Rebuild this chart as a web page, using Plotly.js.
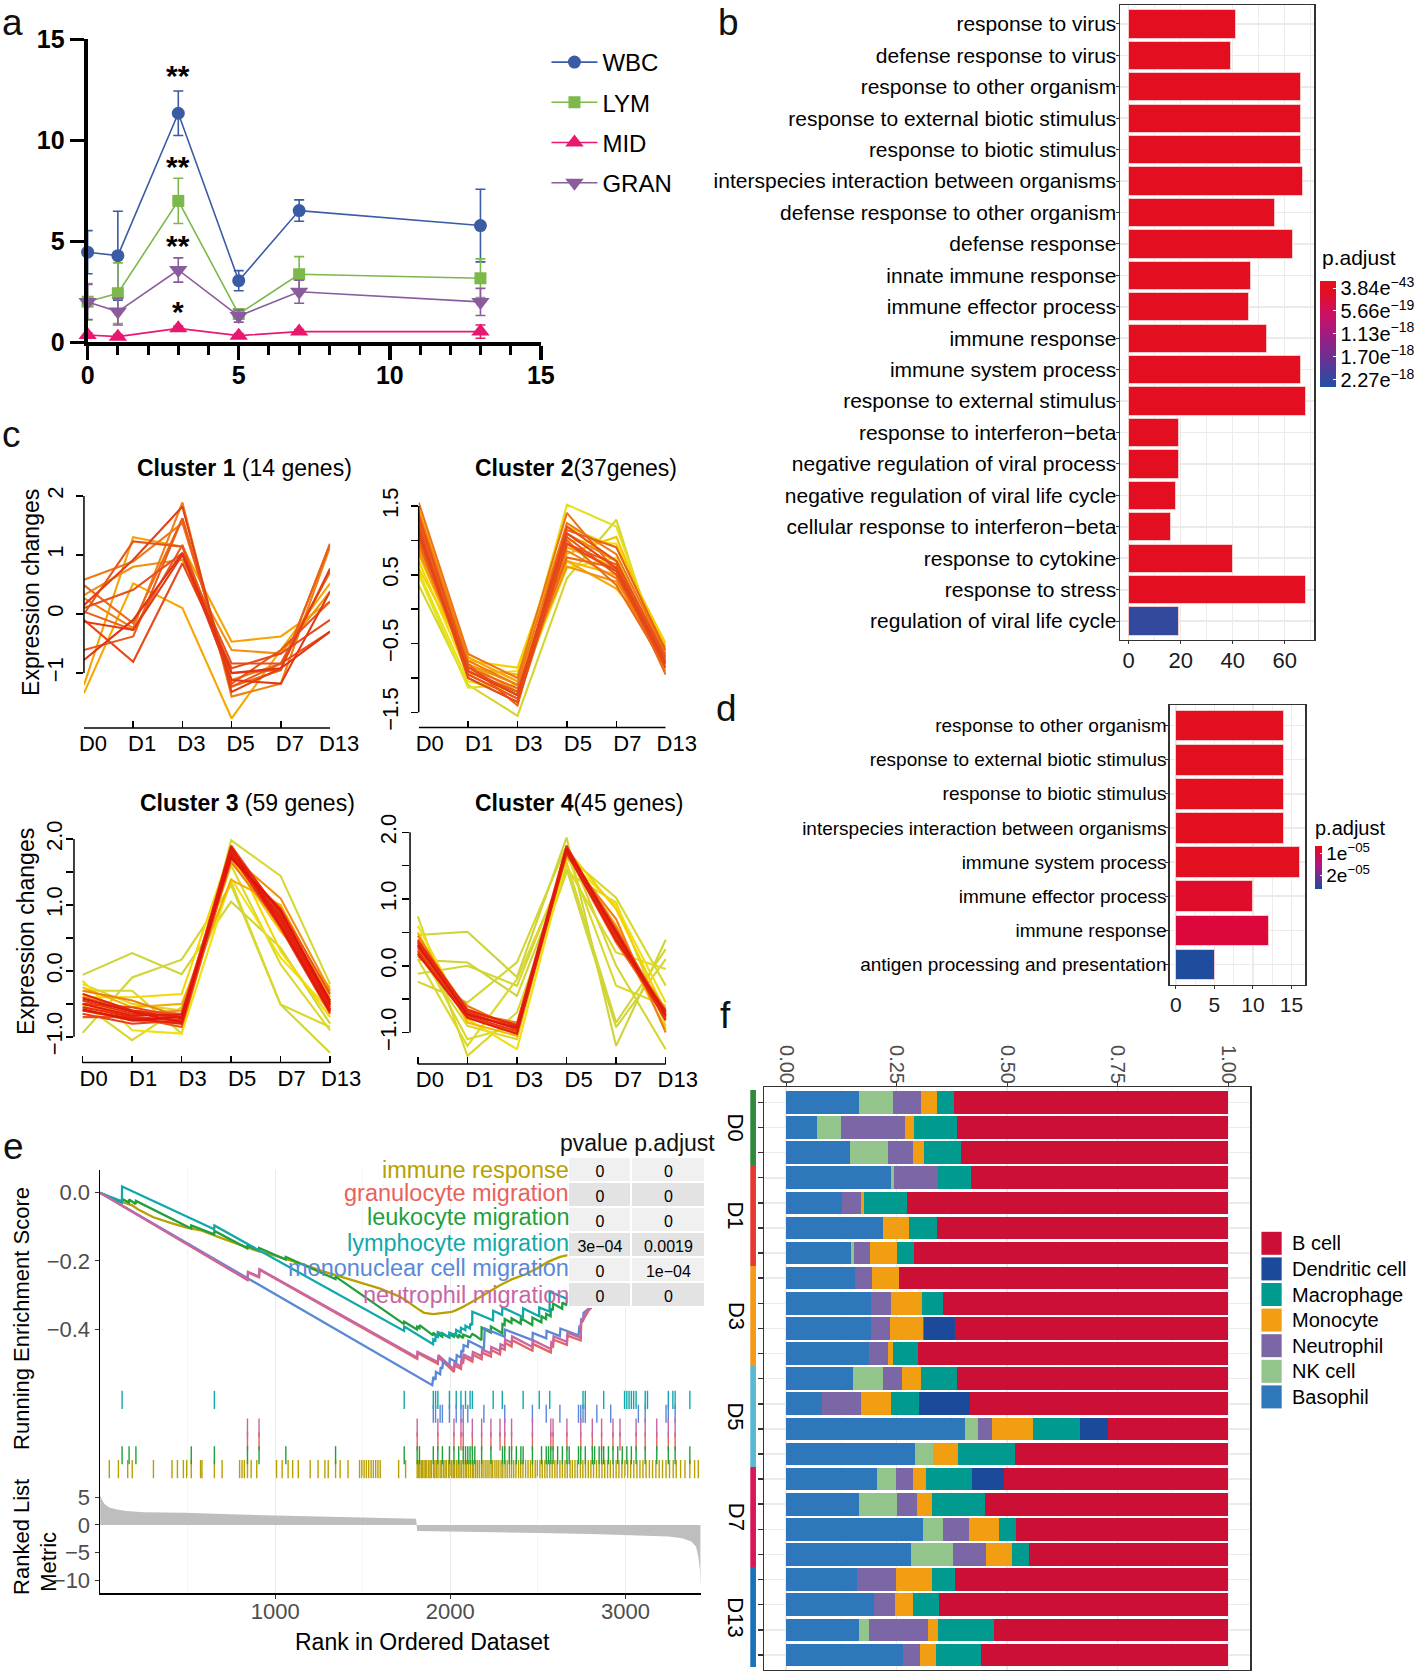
<!DOCTYPE html>
<html><head><meta charset="utf-8">
<script src="https://cdn.plot.ly/plotly-3.0.1.min.js"></script>
<style>html,body{margin:0;padding:0;background:#fff}#chart{width:1418px;height:1672px}</style>
</head><body><div id="chart"></div>
<script>
const W=1418,H=1672;
const xd=(a,b)=>[a/W,b/W];
const yd=(t,b)=>[1-b/H,1-t/H];
const px=x=>x/W, py=y=>1-y/H;
const FONT='Liberation Sans, Arial, Helvetica, sans-serif';

/* ---------------- Panel a data ---------------- */
const aDays=[0,1,3,5,7,13];
const wbc=[4.46,4.29,11.34,3.05,6.52,5.78];
const wbcErr=[1.07,2.2,1.1,0.5,0.53,1.8];
const lym=[2.01,2.43,7.0,1.4,3.37,3.17];
const lymErr=[0.9,1.5,1.12,0.2,0.87,0.96];
const mid=[0.36,0.28,0.69,0.33,0.53,0.53];
const midErr=[0.1,0.1,0.12,0.1,0.1,0.33];
const gran=[2.0,1.52,3.58,1.3,2.5,2.0];
const granErr=[0.87,0.66,0.6,0.3,0.57,0.67];
const sigLabels=['**','**','**','*'];
const sigY=[13.2,8.7,4.8,1.5];
const sigDay=3;

/* ---------------- Panel b data ---------------- */
const bTerms=['response to virus','defense response to virus','response to other organism','response to external biotic stimulus','response to biotic stimulus','interspecies interaction between organisms','defense response to other organism','defense response','innate immune response','immune effector process','immune response','immune system process','response to external stimulus','response to interferon\u2212beta','negative regulation of viral process','negative regulation of viral life cycle','cellular response to interferon\u2212beta','response to cytokine','response to stress','regulation of viral life cycle'];
const bCounts=[41,39,66,66,66,67,56,63,47,46,53,66,68,19,19,18,16,40,68,19];
const bPadj=[1.5e-30,2.1e-28,3.84e-43,3.84e-43,3.84e-43,1.2e-42,4.5e-39,2.2e-41,1.1e-35,6.7e-33,3.3e-37,5.1e-42,8.9e-41,2.5e-25,3.1e-24,4.6e-23,7.2e-22,2.9e-33,1.7e-39,2.27e-18];
const bTicks=[3.84e-43,5.66e-19,1.13e-18,1.70e-18,2.27e-18];
const bTickText=['3.84e<sup>\u221243</sup>','5.66e<sup>\u221219</sup>','1.13e<sup>\u221218</sup>','1.70e<sup>\u221218</sup>','2.27e<sup>\u221218</sup>'];

/* ---------------- Panel d data ---------------- */
const dTerms=['response to other organism','response to external biotic stimulus','response to biotic stimulus','interspecies interaction between organisms','immune system process','immune effector process','immune response','antigen processing and presentation'];
const dCounts=[14,14,14,14,16,10,12,5];
const dPadj=[6.6e-6,6.6e-6,6.6e-6,6.6e-6,6.7e-6,8.0e-6,9.5e-6,2.66e-5];
const dTicks=[1e-5,2e-5];
const dTickText=['1e<sup>\u221205</sup>','2e<sup>\u221205</sup>'];

/* ---------------- Panel c data ---------------- */
const days=['D0','D1','D3','D5','D7','D13'];
const c1Lines=[
[-1.34,0.52,0.10,-1.77,-0.61,0.52],[-1.20,1.30,1.14,-0.47,-0.38,0.21],[0.32,0.80,0.92,-0.61,-0.67,0.38],
[0.27,-0.24,1.89,-1.40,-1.18,1.14],[0.58,0.89,1.54,-1.12,-0.84,0.72],[0.49,-0.16,1.62,-1.23,-0.95,1.19],
[0.04,-0.27,1.17,-1.00,-0.95,1.19],[-0.61,-0.38,1.62,-1.23,-0.84,0.72],[0.00,1.23,1.14,-1.18,-0.61,0.21],
[0.10,0.41,1.03,-0.84,-0.84,-0.30],[-0.10,-0.81,0.86,-0.92,-0.67,-0.10],[0.15,0.92,1.82,-1.32,-0.92,0.77],
[-0.13,-0.27,1.00,-1.12,-1.18,0.38],[-0.78,-0.10,1.03,-1.00,-0.92,-0.30]];
const c1Colors=['#f5a800','#f5a300','#f29012','#f08016','#ee7818','#ec6a18','#ea6018','#ea5a18','#e8541a','#e8501a','#e64a18','#e44016','#e23a14','#e03414'];
const c2Lines=[
[0.35,-1.10,-1.55,0.45,1.30,-0.95],[0.50,-1.14,-1.10,1.52,1.20,-0.80],[0.55,-1.05,-1.20,0.60,0.75,-0.60],
[0.70,-0.95,-0.90,1.00,0.95,-0.55],[0.60,-0.75,-0.85,1.20,0.90,-0.50],[0.90,-0.70,-1.05,0.80,1.05,-0.70],
[0.80,-0.85,-0.95,0.70,0.50,-0.85],[1.45,-0.70,-1.05,0.70,0.30,-0.55],[1.00,-0.80,-1.20,0.90,0.60,-0.75],
[0.85,-0.80,-1.10,0.62,0.40,-0.65],[1.20,-0.90,-1.25,1.10,0.70,-0.80],[1.10,-1.00,-1.35,0.85,0.45,-0.90],
[1.40,-0.75,-1.10,1.25,0.80,-0.65],[1.55,-0.65,-1.00,1.40,0.55,-0.70],[1.30,-0.95,-1.30,1.00,0.35,-0.85],
[0.95,-0.85,-1.15,0.75,0.60,-0.95],[1.25,-0.80,-1.40,1.15,0.90,-0.60],[1.15,-0.90,-1.20,0.95,0.65,-0.75],
[1.05,-0.95,-1.30,1.05,0.50,-0.80],[1.35,-0.85,-1.25,1.20,0.70,-0.70],[1.20,-1.00,-1.35,0.95,0.55,-0.85],
[1.10,-0.90,-1.25,1.10,0.60,-0.78]];
const c2Colors=['#d4d42e','#e4e020','#eee010','#f2dc08','#f5d000','#f5c400','#f5b800','#f5a808','#f4a010','#f29410','#f08a10','#f08012','#ee7a14','#ee7414','#ec6e16','#ec6816','#ea6218','#ea5c18','#e85618','#e85018','#e64a18','#e44418'];
const c3Lines=[
[-0.06,0.27,-0.05,1.05,0.35,-0.80],[-0.94,-0.10,0.17,1.30,-0.51,-1.24],[-0.30,-0.30,-0.95,1.98,1.44,-0.20],
[-0.50,-1.05,-0.55,1.35,-0.51,-0.85],[-0.20,-0.50,-0.60,1.60,0.10,-0.90],[-0.15,-0.90,-0.95,1.40,0.20,-0.60],
[-0.40,-0.40,-0.35,1.85,0.30,-0.70],[-0.35,-0.60,-0.80,1.70,0.60,-0.25],[-0.25,-0.55,-0.50,1.38,1.00,-0.40],
[-0.45,-0.70,-0.75,1.90,0.80,-0.50],[-0.55,-0.65,-0.60,1.75,1.10,-0.30],[-0.30,-0.45,-0.70,1.65,0.70,-0.55],
[-0.60,-0.75,-0.80,1.80,0.90,-0.45],[-0.40,-0.60,-0.65,1.85,0.75,-0.60],[-0.70,-0.70,-0.85,1.70,0.95,-0.35],
[-0.50,-0.55,-0.70,1.90,0.85,-0.50],[-0.65,-0.80,-0.75,1.78,0.65,-0.65],[-0.45,-0.65,-0.70,1.82,0.80,-0.55],
[-0.55,-0.70,-0.75,1.75,0.70,-0.60],[-0.35,-0.60,-0.72,1.85,0.88,-0.45],[-0.60,-0.72,-0.80,1.80,0.75,-0.58],
[-0.50,-0.68,-0.66,1.76,0.82,-0.52],[-0.42,-0.62,-0.78,1.88,0.68,-0.62],[-0.58,-0.75,-0.70,1.72,0.92,-0.48]];
const c3Colors=['#cfd436','#d2d632','#d6d82e','#d8d82a','#dcd826','#f0e010','#f5d800','#f5c800','#f5b000','#f4a010','#f29010','#f08010','#ee7016','#ec6018','#ea5418','#e84a18','#e84018','#e63614','#e62e12','#e42810','#e4220e','#e21e0e','#e2180c','#e0140c'];
const c4Lines=[
[0.46,0.51,-0.17,1.92,-1.20,0.39],[0.09,0.05,-0.45,1.45,-0.92,0.10],[-0.12,0.00,-0.30,1.55,-0.85,0.25],
[-0.24,-0.55,0.05,1.80,0.00,-1.25],[0.74,-1.35,-0.70,1.40,0.95,-0.90],[0.30,-1.10,-0.90,1.65,1.02,-0.30],
[0.20,-0.90,-1.10,1.70,-0.30,-0.60],[0.10,-1.20,-0.20,1.50,0.20,-0.05],[0.60,-0.80,-1.25,1.60,0.90,-0.55],
[0.35,-0.70,-0.95,1.75,0.85,-0.70],[0.50,-0.85,-1.05,1.68,0.50,-0.95],[0.40,-0.65,-0.90,1.72,0.60,-0.80],
[0.25,-0.75,-1.00,1.78,0.45,-0.65],[0.45,-0.70,-0.85,1.65,0.70,-1.00],[0.15,-0.60,-0.95,1.70,0.35,-0.75],
[0.30,-0.72,-0.92,1.75,0.55,-0.72],[0.35,-0.68,-0.88,1.80,0.48,-0.78],[0.22,-0.75,-0.98,1.72,0.40,-0.70],
[0.28,-0.70,-0.95,1.78,0.52,-0.76],[0.38,-0.66,-0.90,1.74,0.45,-0.82],[0.18,-0.78,-1.02,1.70,0.38,-0.68],
[0.32,-0.73,-0.93,1.76,0.50,-0.74]];
const c4Colors=['#cfd436','#d0d434','#d2d632','#d4d630','#d6d82e','#d8d82c','#dad82a','#dcd828','#f0e010','#f5d000','#f5b800','#f4a010','#f29010','#f08012','#ee7016','#ea5818','#e84a18','#e63c16','#e43014','#e42812','#e2200e','#e0180c'];
const clusterTitles=['<b>Cluster 1</b> (14 genes)','<b>Cluster 2</b>(37genes)','<b>Cluster 3</b> (59 genes)','<b>Cluster 4</b>(45 genes)'];

/* ---------------- Panel e data ---------------- */
const esSets=['immune response','granulocyte migration','leukocyte migration','lymphocyte migration','mononuclear cell migration','neutrophil migration'];
const esPvalue=['0','0','0','3e\u221204','0','0'];
const esPadjust=['0','0','0','0.0019','1e\u221204','0'];
const esImmuneX=[0,53,105,158,184,218,305,411,495,574,653,697,797,863,895,1008,1100,1200,1284,1371,1482,1534,1600,1705,1745,1811,1850,1903,1955,2008,2034,2074,2140,2219,2284,2350,2429,2495,2561,2626,2671,2900,3200,3429];
const esImmuneY=[0,-0.014,-0.023,-0.031,-0.037,-0.049,-0.072,-0.090,-0.102,-0.110,-0.124,-0.134,-0.152,-0.163,-0.170,-0.186,-0.200,-0.217,-0.232,-0.246,-0.264,-0.271,-0.281,-0.303,-0.315,-0.339,-0.352,-0.356,-0.352,-0.349,-0.344,-0.334,-0.315,-0.290,-0.271,-0.254,-0.239,-0.222,-0.202,-0.188,-0.183,-0.12,-0.05,0];
const esGranuloX=[0,842,845,908,911,1811,1813,1929,1932,2021,2024,2061,2063,2074,2076,2126,2129,2179,2182,2232,2234,2284,2287,2311,2313,2350,2353,2469,2471,2574,2577,2587,2590,2666,2669,2745,2747,2790,3429];
const esGranuloY=[0,-0.256,-0.234,-0.248,-0.226,-0.487,-0.470,-0.502,-0.482,-0.525,-0.506,-0.516,-0.496,-0.500,-0.481,-0.495,-0.475,-0.488,-0.469,-0.480,-0.461,-0.474,-0.454,-0.460,-0.440,-0.451,-0.432,-0.463,-0.443,-0.468,-0.448,-0.451,-0.431,-0.446,-0.419,-0.433,-0.383,-0.345,0];
const esLeukoX=[0,125,126,165,166,204,205,520,521,652,653,841,842,907,908,1060,1061,1344,1345,1736,1737,1810,1811,1824,1825,1902,1903,1928,1929,1954,1955,1994,1995,2020,2021,2047,2048,2073,2074,2113,2126,2140,2178,2179,2231,2232,2297,2298,2310,2311,2349,2350,2402,2403,2468,2469,2520,2521,2547,2548,2573,2574,2586,2587,2639,2640,2665,2666,2800,3100,3429];
const esLeukoY=[0,-0.029,-0.018,-0.029,-0.020,-0.033,-0.024,-0.105,-0.096,-0.122,-0.112,-0.163,-0.155,-0.170,-0.162,-0.196,-0.188,-0.253,-0.246,-0.385,-0.378,-0.401,-0.393,-0.397,-0.388,-0.418,-0.410,-0.424,-0.414,-0.422,-0.412,-0.424,-0.414,-0.422,-0.412,-0.426,-0.416,-0.426,-0.416,-0.424,-0.414,-0.418,-0.432,-0.395,-0.410,-0.392,-0.412,-0.385,-0.388,-0.370,-0.382,-0.368,-0.384,-0.368,-0.388,-0.366,-0.380,-0.362,-0.370,-0.355,-0.362,-0.340,-0.344,-0.325,-0.340,-0.322,-0.330,-0.312,-0.270,-0.150,0];
const esLymphoX=[0,125,126,652,653,1736,1737,1902,1903,1915,1916,1928,1929,1994,1995,2033,2034,2060,2061,2086,2087,2112,2113,2125,2126,2244,2245,2296,2297,2415,2416,2507,2508,2567,2568,2757,2758,2770,2771,3000,3429];
const esLymphoY=[0,-0.025,0.018,-0.107,-0.096,-0.405,-0.392,-0.444,-0.430,-0.433,-0.420,-0.423,-0.408,-0.424,-0.410,-0.418,-0.402,-0.410,-0.396,-0.403,-0.390,-0.398,-0.384,-0.388,-0.349,-0.374,-0.346,-0.358,-0.336,-0.364,-0.339,-0.362,-0.336,-0.348,-0.290,-0.330,-0.300,-0.303,-0.270,-0.170,0];
const esMonoX=[0,1897,1903,1916,1918,1942,1945,1955,1958,1995,1997,2034,2037,2061,2063,2074,2076,2100,2103,2192,2197,2311,2313,2469,2471,2548,2550,2626,2629,2732,2737,2745,2747,2758,2761,2790,3429];
const esMonoY=[0,-0.564,-0.540,-0.548,-0.525,-0.532,-0.511,-0.516,-0.496,-0.506,-0.486,-0.496,-0.476,-0.483,-0.462,-0.467,-0.447,-0.452,-0.434,-0.457,-0.398,-0.422,-0.401,-0.432,-0.411,-0.427,-0.405,-0.420,-0.398,-0.418,-0.393,-0.395,-0.372,-0.374,-0.352,-0.340,0];
const esNeutroX=[0,842,845,908,911,1811,1813,1929,1932,2021,2024,2061,2063,2074,2076,2126,2129,2179,2182,2232,2234,2284,2287,2311,2313,2350,2353,2469,2471,2574,2577,2587,2590,2666,2669,2745,2747,2790,3429];
const esNeutroY=[0,-0.254,-0.232,-0.246,-0.224,-0.483,-0.466,-0.496,-0.476,-0.518,-0.499,-0.509,-0.489,-0.493,-0.474,-0.487,-0.467,-0.479,-0.460,-0.471,-0.452,-0.464,-0.444,-0.450,-0.430,-0.440,-0.421,-0.452,-0.432,-0.458,-0.438,-0.441,-0.421,-0.437,-0.410,-0.425,-0.375,-0.340,0];
const hitsImmune=[53,105,158,184,305,411,442,476,495,521,574,582,653,697,797,811,824,842,863,895,1008,1040,1074,1100,1132,1200,1245,1284,1303,1345,1371,1416,1482,1495,1508,1521,1534,1548,1561,1574,1587,1600,1705,1745,
1811,1818,1826,1835,1841,1850,1858,1866,1877,1885,1893,1905,1912,1921,1930,1942,1950,1961,1970,1978,1990,1998,2008,2017,2025,2036,2045,2055,2063,2074,2085,2093,2104,2115,2126,2134,2145,2155,2166,2178,2187,2199,2210,2221,2233,2242,2255,2266,2277,2290,2300,2313,2325,2338,2350,2362,2375,2390,2402,2415,2430,2444,2458,2470,2485,2497,2512,2525,2540,2553,2568,2582,2597,2610,2626,2640,2655,2668,2684,2697,2712,2726,2743,2757,2772,2788,2803,2818,2835,2850,2866,2882,2898,2914,2931,2947,2963,2980,2997,3013,3030,3048,3066,3083,3100,3118,3137,3155,3174,3193,3212,3232,3252,3273,3290,3315,3340,3368,3395,3416];
const hitsGranulo=[842,908,1811,1929,2021,2061,2074,2126,2179,2232,2284,2311,2350,2469,2574,2587,2666,2745,2811,2864,2929,2969,3061,3113,3179,3245,3284];
const hitsNeutro=[842,908,1811,1929,2021,2061,2074,2126,2179,2232,2284,2311,2350,2469,2574,2587,2666,2745,2811,2864,2929,2969,3061,3113,3179,3245,3284];
const hitsLeuko=[126,166,205,521,653,842,908,1061,1345,1737,1811,1824,1903,1929,1955,1995,2021,2048,2074,2087,2100,2113,2126,2140,2179,2232,2298,2311,2337,2350,2377,2403,2416,2469,2521,2548,2561,2574,2587,2613,2640,2666,2679,2732,2745,2771,2811,2824,2850,2864,2876,2903,2929,2956,2982,3008,3034,3061,3113,3179,3245,3284,3368];
const hitsLympho=[126,653,1737,1903,1916,1929,1995,2034,2061,2087,2113,2126,2245,2297,2416,2508,2568,2758,2771,2876,2995,3008,3021,3034,3047,3061,3113,3126,3245,3271,3284,3368];
const hitsMono=[1903,1916,1942,1955,1995,2034,2061,2074,2100,2192,2311,2469,2548,2626,2732,2745,2758,2771,2837,2916,3074,3113,3232,3245,3284];
const rankX=[1,10,25,50,90,150,250,480,745,1008,1271,1534,1805,1811,2061,2324,2587,2850,3113,3245,3324,3376,3403,3416,3425,3429];
const rankY=[5.4,4.6,3.8,3.2,2.8,2.5,2.3,2.2,1.9,1.7,1.5,1.3,1.1,-1.1,-1.2,-1.3,-1.5,-1.7,-1.9,-2.1,-2.4,-3.0,-3.9,-5.7,-8.0,-11.4];

/* ---------------- Panel f data ---------------- */
const fGroups=['D0','D1','D3','D5','D7','D13'];
const fGroupSizes=[3,4,4,4,4,4];
const cellTypes=['Basophil','NK cell','Neutrophil','Monocyte','Macrophage','Dendritic cell','B cell'];
const fBasophil=[0.165,0.070,0.145,0.237,0.127,0.220,0.147,0.157,0.193,0.193,0.188,0.152,0.081,0.405,0.291,0.206,0.165,0.310,0.283,0.161,0.198,0.164,0.265];
const fNK=[0.076,0.055,0.085,0.006,0,0,0.007,0,0,0,0,0.067,0,0.030,0.041,0.043,0.086,0.044,0.094,0,0,0.024,0];
const fNeutrophil=[0.064,0.145,0.056,0.100,0.043,0,0.035,0.037,0.045,0.043,0.043,0.044,0.088,0.031,0,0.039,0.046,0.059,0.075,0.087,0.048,0.133,0.037];
const fMonocyte=[0.037,0.019,0.026,0,0.007,0.059,0.063,0.062,0.070,0.073,0.010,0.042,0.069,0.092,0.057,0.028,0.034,0.069,0.058,0.081,0.040,0.023,0.037];
const fMacrophage=[0.038,0.097,0.083,0.076,0.097,0.063,0.038,0,0.048,0.003,0.057,0.081,0.063,0.107,0.129,0.104,0.120,0.038,0.039,0.053,0.061,0.126,0.102];
const fDendritic=[0,0,0,0,0,0,0,0,0,0.069,0,0,0.114,0.062,0,0.073,0,0,0,0,0,0,0];
const fBcell=[0.620,0.614,0.605,0.581,0.726,0.658,0.710,0.744,0.644,0.619,0.702,0.614,0.585,0.273,0.482,0.507,0.549,0.480,0.451,0.618,0.653,0.530,0.559];

/* ---------------- build ---------------- */
const traces=[], shapes=[], ann=[];
const txt=(x,y,t,o={})=>ann.push(Object.assign({xref:'paper',yref:'paper',x:px(x),y:py(y),text:t,showarrow:false,xanchor:'center',yanchor:'middle',font:{family:FONT,size:22,color:'#000'}},o));

// panel letters
[['a',13,22],['b',731,22],['c',12,434],['d',729,708],['e',14,1146],['f',728,1015]].forEach(l=>txt(l[1],l[2],l[0],{font:{family:FONT,size:37,color:'#111'}}));

// ---- a
const aSeries=[
 {name:'WBC',y:wbc,e:wbcErr,color:'#3b5ba5',symbol:'circle',size:13},
 {name:'LYM',y:lym,e:lymErr,color:'#7cb84a',symbol:'square',size:12},
 {name:'MID',y:mid,e:midErr,color:'#e8186e',symbol:'triangle-up',size:16},
 {name:'GRAN',y:gran,e:granErr,color:'#8a5c9e',symbol:'triangle-down',size:16}];
aSeries.forEach((s,i)=>traces.push({type:'scatter',mode:'lines+markers',name:s.name,x:aDays,y:s.y,xaxis:'x',yaxis:'y',cliponaxis:false,
  line:{color:s.color,width:1.6},marker:{symbol:s.symbol,size:s.size,color:s.color},
  error_y:{type:'data',array:s.e,visible:true,color:s.color,thickness:1.6,width:5},legendgroup:'g'+i,showlegend:true,hoverinfo:'skip'}));
sigLabels.forEach((t,i)=>ann.push({xref:'x',yref:'y',x:sigDay,y:sigY[i],text:t,showarrow:false,font:{family:FONT,size:30,weight:'bold',color:'#000'}}));

// ---- b
const padjScaleB=[[0,'#2151a2'],[0.28,'#6c2f91'],[0.5,'#a11c80'],[0.72,'#d10f5c'],[0.9,'#e20f22'],[1,'#e4101c']];
traces.push({type:'bar',orientation:'h',y:bTerms,x:bCounts,xaxis:'x2',yaxis:'y2',width:0.9,showlegend:false,hoverinfo:'skip',
  marker:{color:bPadj.map(p=>-p),cmin:-2.444e-18,cmax:1.74e-19,colorscale:padjScaleB,showscale:true,line:{color:'#f7c8c8',width:1},
   colorbar:{x:px(1324),xanchor:'left',xpad:0,y:py(334),yanchor:'middle',ypad:0,len:106,lenmode:'pixels',thickness:16,thicknessmode:'pixels',outlinewidth:0,
    tickmode:'array',tickvals:bTicks.map(v=>-v),ticktext:bTickText,ticks:'inside',ticklen:3,tickcolor:'#fff',tickfont:{family:FONT,size:20,color:'#000'},title:{text:''}}}});
txt(1324,258,'p.adjust',{xanchor:'left',font:{family:FONT,size:21,color:'#000'}});

// ---- d
const padjScaleD=[[0,'#1f4c9c'],[0.35,'#7a2a8e'],[0.6,'#b8157a'],[0.85,'#dc083c'],[1,'#e20f1e']];
traces.push({type:'bar',orientation:'h',y:dTerms,x:dCounts,xaxis:'x3',yaxis:'y3',width:0.9,showlegend:false,hoverinfo:'skip',
  marker:{color:dPadj.map(p=>-p),cmin:-2.66e-5,cmax:-0.66e-5,colorscale:padjScaleD,showscale:true,line:{color:'#f7c8c8',width:1},
   colorbar:{x:px(1319),xanchor:'left',xpad:0,y:py(867.7),yanchor:'middle',ypad:0,len:43.3,lenmode:'pixels',thickness:7,thicknessmode:'pixels',outlinewidth:0,
    tickmode:'array',tickvals:dTicks.map(v=>-v),ticktext:dTickText,ticks:'inside',ticklen:2,tickcolor:'#fff',tickfont:{family:FONT,size:19,color:'#000'},title:{text:''}}}});
txt(1317,828,'p.adjust',{xanchor:'left',font:{family:FONT,size:20,color:'#000'}});

// ---- c
const dayIdx=days.map((d,i)=>i);
const cSpecs=[
 {n:4,lines:c1Lines,colors:c1Colors,xDom:[84.2,331],yDom:[493.6,727.9],xr:[0,5],yr:[-1.93,2.04],tv:[-1,0,1,2],tt:['\u22121','0','1','2'],minor:false,so:4,shift:9,title:[245.5,468],ylab:[31,592]},
 {n:5,lines:c2Lines,colors:c2Colors,xDom:[419.9,667.6],yDom:[492.9,727.5],xr:[0,5],yr:[-1.72,1.69],tv:[-1.5,-0.5,0.5,1.5],tt:['\u22121.5','\u22120.5','0.5','1.5'],minor:true,so:4,shift:11,title:[578,468]},
 {n:6,lines:c3Lines,colors:c3Colors,xDom:[74.2,339.7],yDom:[830.4,1062.6],xr:[-0.175,5.175],yr:[-1.39,2.13],tv:[-1,0,1,2],tt:['\u22121.0','0.0','1.0','2.0'],minor:true,so:-5,shift:11,title:[248,802.7],ylab:[26,931]},
 {n:7,lines:c4Lines,colors:c4Colors,xDom:[411.2,675.4],yDom:[829.6,1063.9],xr:[-0.157,5.157],yr:[-1.47,2.04],tv:[-1,0,1,2],tt:['\u22121.0','0.0','1.0','2.0'],minor:true,so:-3,shift:12,title:[580.6,802.7]}];
const L={};
cSpecs.forEach((c,ci)=>{
  c.lines.forEach((ln,k)=>traces.push({type:'scatter',mode:'lines',x:dayIdx,y:ln,xaxis:'x'+c.n,yaxis:'y'+c.n,line:{color:c.colors[k],width:2.1},showlegend:false,hoverinfo:'skip'}));
  L['xaxis'+c.n]={domain:xd(...c.xDom),anchor:'y'+c.n,range:c.xr,tickmode:'array',tickvals:dayIdx,ticktext:days,ticks:'inside',ticklen:7,tickwidth:1.5,tickcolor:'#000',ticklabelshift:c.shift,showline:false,showgrid:false,zeroline:false,tickfont:{family:FONT,size:22,color:'#000'}};
  L['yaxis'+c.n]={domain:yd(...c.yDom),anchor:'x'+c.n,range:c.yr,tickmode:'array',tickvals:c.tv,ticktext:c.tt,tickangle:-90,ticks:'outside',ticklen:7,tickwidth:1.5,tickcolor:'#000',ticklabelstandoff:c.so,showline:false,showgrid:false,zeroline:false,tickfont:{family:FONT,size:22,color:'#000'}};
  if(c.minor) L['yaxis'+c.n].minor={tickmode:'linear',tick0:0,dtick:0.5,ticks:'outside',ticklen:7,tickwidth:1.5,tickcolor:'#000'};
  shapes.push({type:'line',xref:'x'+c.n+' domain',x0:0,x1:0,yref:'y'+c.n,y0:Math.min(...c.tv),y1:Math.max(...c.tv),line:{color:'#000',width:1.5}});
  shapes.push({type:'line',xref:'x'+c.n,x0:0,x1:dayIdx.length-1,yref:'y'+c.n+' domain',y0:0,y1:0,line:{color:'#000',width:1.5}});
  txt(c.title[0],c.title[1],clusterTitles[ci],{font:{family:FONT,size:23,color:'#000'}});
  if(c.ylab) txt(c.ylab[0],c.ylab[1],'Expression changes',{textangle:-90,font:{family:FONT,size:23,color:'#000'}});
});

// ---- e
const esColors=['#b8a000','#e8625c','#1fa03c','#12a8ab','#5a88d6','#c766a6'];
const esX=[esImmuneX,esGranuloX,esLeukoX,esLymphoX,esMonoX,esNeutroX];
const esY=[esImmuneY,esGranuloY,esLeukoY,esLymphoY,esMonoY,esNeutroY];
esSets.forEach((s,i)=>traces.push({type:'scatter',mode:'lines',x:esX[i],y:esY[i],xaxis:'x8',yaxis:'y8',line:{color:esColors[i],width:2.3},showlegend:false,hoverinfo:'skip'}));
const hits=[hitsImmune,hitsGranulo,hitsLeuko,hitsLympho,hitsMono,hitsNeutro];
const rugRow=[0.5,2.5,1.5,5.5,4.5,3.5];
esSets.forEach((s,i)=>traces.push({type:'scatter',mode:'markers',x:hits[i],y:hits[i].map(()=>rugRow[i]),xaxis:'x9',yaxis:'y9',cliponaxis:false,
  marker:{symbol:'line-ns',size:13,line:{width:1.4,color:esColors[i]}},showlegend:false,hoverinfo:'skip'}));
traces.push({type:'scatter',mode:'lines',x:rankX,y:rankY,xaxis:'x10',yaxis:'y10',fill:'tozeroy',fillcolor:'#bebebe',line:{width:0,color:'#bebebe'},showlegend:false,hoverinfo:'skip'});
const rowFill=['#f0f0f0','#e3e3e3','#f0f0f0','#e3e3e3','#f0f0f0','#e3e3e3'];
traces.push({type:'table',domain:{x:xd(570,708.3),y:yd(1156,1330)},columnwidth:[63,74],
  header:{values:['',''],height:1,fill:{color:'rgba(0,0,0,0)'},line:{width:0,color:'rgba(0,0,0,0)'}},
  cells:{values:[esPvalue,esPadjust],fill:{color:[rowFill,rowFill]},line:{color:'#fff',width:2},font:{family:FONT,size:16,color:'#000'},height:25,align:'center'}});
txt(639,1143,'pvalue p.adjust',{font:{family:FONT,size:23,color:'#111'}});
const esLabelY=[1170,1193.3,1216.7,1243.3,1268.3,1295];
esSets.forEach((s,i)=>txt(573,esLabelY[i],s,{xanchor:'right',font:{family:FONT,size:23.5,color:esColors[i]}}));
txt(21,1318,'Running Enrichment Score',{textangle:-90,font:{family:FONT,size:22,color:'#000'}});
txt(21,1537,'Ranked List',{textangle:-90,font:{family:FONT,size:22,color:'#000'}});
txt(48,1562,'Metric',{textangle:-90,font:{family:FONT,size:22,color:'#000'}});
txt(424,1642,'Rank in Ordered Dataset',{font:{family:FONT,size:23,color:'#000'}});

// ---- f
const fSamples=[]; const fSampleGroup=[];
fGroups.forEach((g,gi)=>{for(let k=0;k<fGroupSizes[gi];k++){fSamples.push(g+'_'+(k+1));fSampleGroup.push(gi);}});
const fValues=[fBasophil,fNK,fNeutrophil,fMonocyte,fMacrophage,fDendritic,fBcell];
const fColors=['#2e77bb','#93c48b','#7b67a5','#f29e13','#009a8f','#1c4a9b','#cc0f35'];
cellTypes.forEach((ct,i)=>traces.push({type:'bar',orientation:'h',name:ct,x:fValues[i],y:fSamples,xaxis:'x11',yaxis:'y11',width:0.9,marker:{color:fColors[i],line:{width:0}},showlegend:false,hoverinfo:'skip'}));
const groupColors=['#2e8b3e','#e53a2f','#f39a17','#5ab9d2','#d8175a','#1a72b8'];
traces.push({type:'bar',orientation:'h',x:fSamples.map(()=>1),y:fSamples,xaxis:'x12',yaxis:'y11',width:1,marker:{color:fSampleGroup.map(g=>groupColors[g]),line:{width:0}},showlegend:false,hoverinfo:'skip'});
let start=0;
fGroups.forEach((g,gi)=>{const c=start+(fGroupSizes[gi]-1)/2;start+=fGroupSizes[gi];
  ann.push({xref:'paper',yref:'y11',x:px(738),y:c,text:g,textangle:90,showarrow:false,font:{family:FONT,size:22,color:'#000'}});});
const legY0=1243.3, legStep=25.6;
cellTypes.slice().reverse().forEach((ct,i)=>{
  const ci=cellTypes.indexOf(ct); const cy=legY0+i*legStep;
  shapes.push({type:'rect',xref:'paper',yref:'paper',x0:px(1265),x1:px(1285.3),y0:py(cy+11.5),y1:py(cy-11.5),fillcolor:fColors[ci],line:{width:0}});
  txt(1294,cy,ct,{xanchor:'left',font:{family:FONT,size:20,color:'#000'}});
});

/* ---------------- layout ---------------- */
Object.assign(L,{
 width:W,height:H,margin:{l:0,r:0,t:0,b:0},paper_bgcolor:'#fff',plot_bgcolor:'#fff',
 font:{family:FONT,color:'#000'},barmode:'stack',hovermode:false,showlegend:true,
 legend:{x:px(548),y:py(40),xanchor:'left',yanchor:'top',bgcolor:'rgba(0,0,0,0)',font:{family:FONT,size:24,color:'#000'},tracegroupgap:6,itemwidth:46},
 xaxis:{domain:xd(87.9,542.4),anchor:'y',range:[0,15],tick0:0,dtick:5,ticks:'outside',ticklen:14,tickwidth:3.5,tickcolor:'#000',showline:true,linewidth:4,linecolor:'#000',showgrid:false,zeroline:false,ticklabelstandoff:-6,
   tickfont:{family:FONT,size:25,weight:'bold',color:'#000'},minor:{tickmode:'linear',tick0:0,dtick:1,ticks:'outside',ticklen:9,tickwidth:3,tickcolor:'#000'}},
 yaxis:{domain:yd(39.3,342.3),anchor:'x',range:[0,15],tick0:0,dtick:5,ticks:'outside',ticklen:14,tickwidth:3.5,tickcolor:'#000',showline:true,linewidth:4,linecolor:'#000',showgrid:false,zeroline:false,
   tickfont:{family:FONT,size:25,weight:'bold',color:'#000'}},
 xaxis2:{domain:xd(1123,1318),anchor:'y2',range:[-3.4,71.4],tickvals:[0,20,40,60],ticks:'outside',ticklen:3,tickcolor:'#333',showline:true,mirror:true,linecolor:'#333',linewidth:1.3,ticklabelstandoff:-3,
   showgrid:true,gridcolor:'#ebebeb',gridwidth:1.6,zeroline:false,minor:{tickmode:'linear',tick0:10,dtick:20,showgrid:true,gridcolor:'#ebebeb',gridwidth:0.9},tickfont:{family:FONT,size:22,color:'#1a1a1a'}},
 yaxis2:{domain:yd(5,640),anchor:'x2',type:'category',range:[bTerms.length-0.4,-0.6],ticks:'outside',ticklen:3,tickcolor:'#333',showline:true,mirror:true,linecolor:'#333',linewidth:1.3,ticklabelstandoff:-5,
   showgrid:true,gridcolor:'#ebebeb',gridwidth:1.6,zeroline:false,tickfont:{family:FONT,size:21,color:'#000'}},
 xaxis3:{domain:xd(1172.9,1309),anchor:'y3',range:[-0.8,16.8],tickvals:[0,5,10,15],ticks:'outside',ticklen:3,tickcolor:'#333',showline:true,mirror:true,linecolor:'#333',linewidth:1.3,ticklabelstandoff:-3,
   showgrid:true,gridcolor:'#ebebeb',gridwidth:1.6,zeroline:false,minor:{tickmode:'linear',tick0:2.5,dtick:5,showgrid:true,gridcolor:'#ebebeb',gridwidth:0.9},tickfont:{family:FONT,size:21,color:'#1a1a1a'}},
 yaxis3:{domain:yd(705,985),anchor:'x3',type:'category',range:[dTerms.length-0.4,-0.6],ticks:'outside',ticklen:3,tickcolor:'#333',showline:true,mirror:true,linecolor:'#333',linewidth:1.3,ticklabelstandoff:-5,
   showgrid:true,gridcolor:'#ebebeb',gridwidth:1.6,zeroline:false,tickfont:{family:FONT,size:19,color:'#000'}},
 xaxis8:{domain:xd(100.3,702.7),anchor:'y8',range:[0,3430],showticklabels:false,ticks:'',tick0:0,dtick:1000,showgrid:true,gridcolor:'#ebebeb',gridwidth:1.2,zeroline:false,minor:{dtick:500,showgrid:true,gridcolor:'#f2f2f2',gridwidth:0.8}},
 yaxis8:{domain:yd(1170,1393),anchor:'x8',range:[-0.587,0.0666],tickvals:[0,-0.2,-0.4],ticktext:['0.0','\u22120.2','\u22120.4'],ticks:'outside',ticklen:4,tickcolor:'#333',showline:true,linecolor:'#000',linewidth:1.5,showgrid:false,zeroline:false,tickfont:{family:FONT,size:22,color:'#4d4d4d'}},
 xaxis9:{domain:xd(100.3,702.7),anchor:'y9',range:[0,3430],showticklabels:false,ticks:'',tick0:0,dtick:1000,showgrid:true,gridcolor:'#ebebeb',gridwidth:1.2,zeroline:false,minor:{dtick:500,showgrid:true,gridcolor:'#f2f2f2',gridwidth:0.8}},
 yaxis9:{domain:yd(1393,1476),anchor:'x9',range:[0,6],showticklabels:false,ticks:'',showline:true,linecolor:'#000',linewidth:1.5,showgrid:false,zeroline:false},
 xaxis10:{domain:xd(100.3,702.7),anchor:'y10',range:[0,3430],tickvals:[1000,2000,3000],ticks:'outside',ticklen:4,tickcolor:'#333',ticklabelstandoff:-6,showline:true,linecolor:'#000',linewidth:1.5,showgrid:true,gridcolor:'#ebebeb',gridwidth:1.2,zeroline:false,
   minor:{tickmode:'linear',tick0:0,dtick:500,showgrid:true,gridcolor:'#f2f2f2',gridwidth:0.8},tickfont:{family:FONT,size:22,color:'#4d4d4d'}},
 yaxis10:{domain:yd(1476,1593.3),anchor:'x10',range:[-12.3,8.8],tickvals:[5,0,-5,-10],ticktext:['5','0','\u22125','\u221210'],ticks:'outside',ticklen:4,tickcolor:'#333',showline:true,linecolor:'#000',linewidth:1.5,showgrid:false,zeroline:false,tickfont:{family:FONT,size:22,color:'#4d4d4d'}},
 xaxis11:{domain:xd(766.1,1253.9),anchor:'y11',side:'top',range:[-0.05,1.05],tickvals:[0,0.25,0.5,0.75,1],ticktext:['0.00','0.25','0.50','0.75','1.00'],tickangle:90,ticks:'outside',ticklen:4,tickcolor:'#333',ticklabelstandoff:-9,
   showline:true,mirror:true,linecolor:'#333',linewidth:1.3,showgrid:true,gridcolor:'#ebebeb',gridwidth:1.4,zeroline:false,minor:{tickmode:'linear',tick0:0.125,dtick:0.25,showgrid:true,gridcolor:'#f2f2f2',gridwidth:0.8},tickfont:{family:FONT,size:20,color:'#4d4d4d'}},
 yaxis11:{domain:yd(1087.3,1670),anchor:'x11',type:'category',range:[fSamples.length-0.4,-0.6],showticklabels:false,ticks:'outside',ticklen:5,tickwidth:1.5,tickcolor:'#333',showline:true,mirror:true,linecolor:'#333',linewidth:1.3,showgrid:true,gridcolor:'#ebebeb',gridwidth:1.6,zeroline:false},
 xaxis12:{domain:xd(752.4,758.1),anchor:'y11',range:[0,1],visible:false},
 shapes:shapes,annotations:ann
});
Plotly.newPlot('chart',traces,L,{displayModeBar:false,staticPlot:true});
</script></body></html>
